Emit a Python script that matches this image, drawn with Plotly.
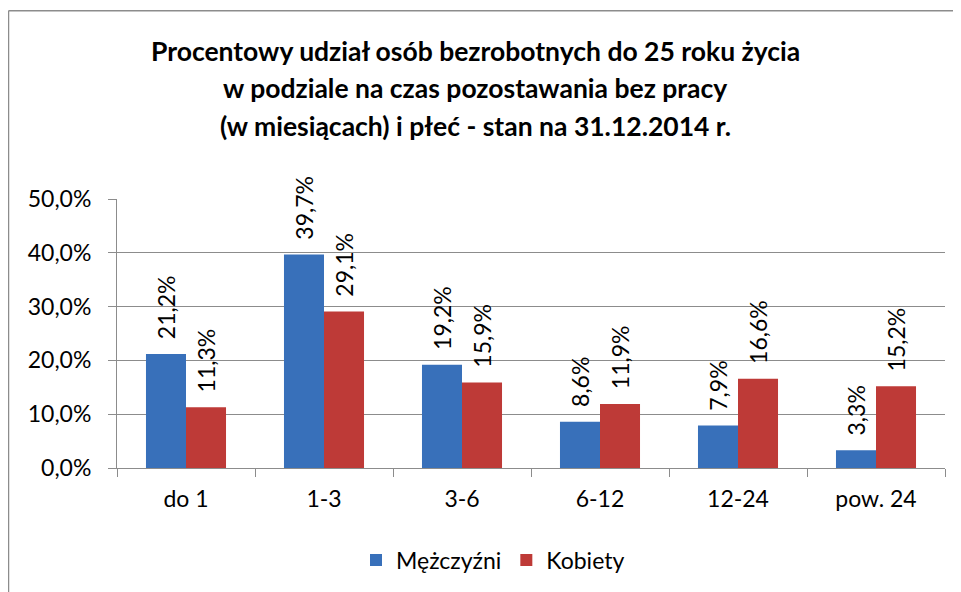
import plotly.graph_objects as go

categories = ["do 1", "1-3", "3-6", "6-12", "12-24", "pow. 24"]
men = [21.2, 39.7, 19.2, 8.6, 7.9, 3.3]
women = [11.3, 29.1, 15.9, 11.9, 16.6, 15.2]
series_names = ["Mężczyźni", "Kobiety"]
title_lines = [
    "Procentowy udział osób bezrobotnych do 25 roku życia",
    "w podziale na czas pozostawania bez pracy",
    "(w miesiącach) i płeć - stan na 31.12.2014 r.",
]

FONT = "Lato"
FS = 23
# page body has an 8px margin; the figure is sized/positioned to compensate
OFF = 8
W, H = 961 - OFF, 592 - OFF
L, T = 117 - OFF, 199 - OFF
R = W - (945 - OFF)
B = H - (469 - OFF)
pw, ph = W - L - R, H - T - B


def px_x(x):  # window px -> paper x
    return (x - OFF - L) / pw


def px_y(y):  # window px -> paper y
    return ((469 - OFF) - (y - OFF)) / ph


fig = go.Figure()
for vals, name, color in [(men, series_names[0], "#3870BA"),
                          (women, series_names[1], "#BE3A37")]:
    fig.add_trace(go.Bar(
        x=categories, y=vals, name=name,
        marker=dict(color=color, line=dict(width=0)),
        texttemplate="\u00a0\u00a0%{y:.1f}%", textposition="outside", textangle=-90,
        constraintext="none",
        textfont=dict(size=FS, color="#000000", family=FONT), cliponaxis=False,
    ))

title_y = [50, 88, 126]
for line, yy in zip(title_lines, title_y):
    fig.add_annotation(
        text=line, xref="paper", yref="paper", x=px_x(475), y=px_y(yy),
        xanchor="center", yanchor="middle", showarrow=False,
        font=dict(family=FONT, size=26.5, color="#000000", weight="bold"),
    )

fig.update_layout(
    width=W, height=H,
    margin=dict(l=L, r=R, t=T, b=B),
    paper_bgcolor="white", plot_bgcolor="white",
    separators=", ",
    barmode="group", bargap=0.42, bargroupgap=0,
    font=dict(family=FONT, size=FS, color="#000000"),
    legend=dict(
        orientation="h", x=px_x(493), xanchor="center", xref="paper",
        y=px_y(560), yanchor="middle",
        font=dict(size=FS, family=FONT), itemwidth=30, traceorder="normal",
    ),
    showlegend=True,
    xaxis=dict(
        showline=True, linecolor="#8c8c8c", linewidth=1,
        ticks="outside", tickson="boundaries", ticklen=8, tickcolor="#8c8c8c",
        tickfont=dict(size=FS, family=FONT), ticklabelstandoff=10,
    ),
    yaxis=dict(
        range=[0, 50], dtick=10, tickformat=".1f", ticksuffix="%",
        showline=True, linecolor="#8c8c8c", linewidth=1,
        showgrid=True, gridcolor="#8c8c8c", gridwidth=1,
        ticks="outside", ticklen=8, tickcolor="#8c8c8c",
        tickfont=dict(size=FS, family=FONT), zeroline=False,
        ticklabelstandoff=12,
    ),
)
# chart area border (top and left visible)
fig.add_shape(type="line", xref="paper", yref="paper",
              x0=px_x(8.5), x1=px_x(961),
              y0=px_y(10), y1=px_y(10),
              line=dict(color="#8c8c8c", width=1.5))
fig.add_shape(type="line", xref="paper", yref="paper",
              x0=px_x(8.5), x1=px_x(8.5),
              y0=px_y(10), y1=px_y(600),
              line=dict(color="#8c8c8c", width=1.5))

fig.write_html("out.html")
